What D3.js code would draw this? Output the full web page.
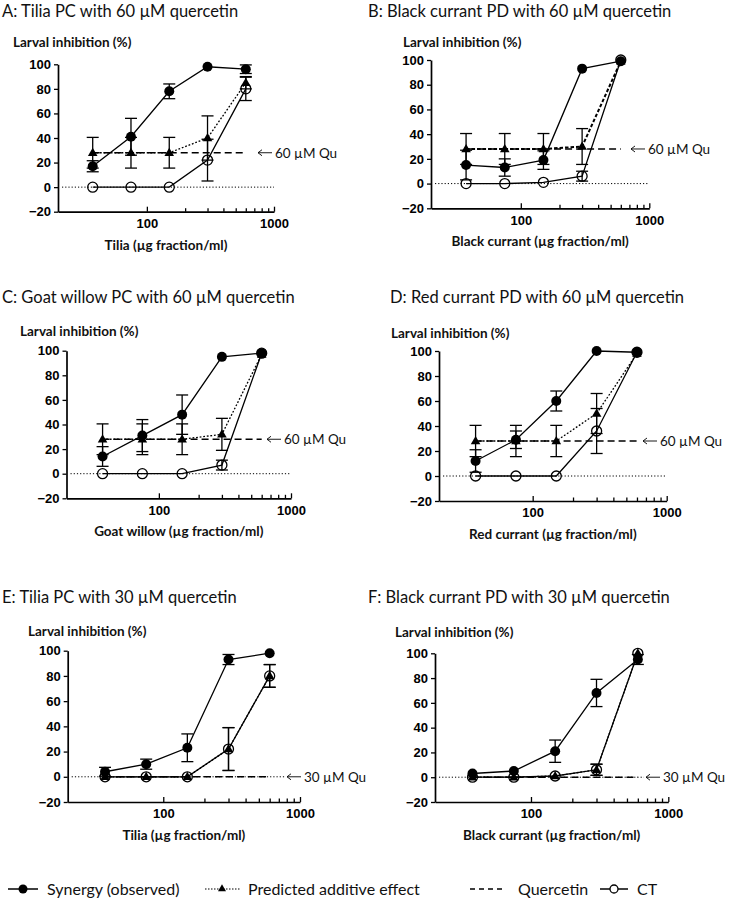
<!DOCTYPE html>
<html><head><meta charset="utf-8">
<script src="https://cdn.jsdelivr.net/npm/d3@7"></script>
<style>body{margin:0;background:#fff} svg{display:block}</style>
</head><body>
<svg id="c" width="731" height="904"></svg>
<script>
// ---------- data ----------
const concentrations = [37.5, 75, 150, 300, 600];
const yTickValues = [-20, 0, 20, 40, 60, 80, 100];
const xMajorTicks = [100, 1000];
const xMinorTicks = [200, 300, 400, 500, 600, 700, 800, 900];

const panelTitles = [
  "A: Tilia PC with 60 µM quercetin",
  "B: Black currant PD with 60 µM quercetin",
  "C: Goat willow PC with 60 µM quercetin",
  "D: Red currant PD with 60 µM quercetin",
  "E: Tilia PC with 30 µM quercetin",
  "F: Black currant PD with 30 µM quercetin"
];
const yAxisTitle = "Larval inhibition (%)";
const xAxisTitles = [
  "Tilia (µg fraction/ml)",
  "Black currant (µg fraction/ml)",
  "Goat willow (µg fraction/ml)",
  "Red currant (µg fraction/ml)",
  "Tilia (µg fraction/ml)",
  "Black currant (µg fraction/ml)"
];
const quercetinLabels = ["60 µM Qu", "60 µM Qu", "60 µM Qu", "60 µM Qu", "30 µM Qu", "30 µM Qu"];
const quercetinLevels = [28, 28, 28, 28, 0, 0];

const synergy = [
  [17, 41, 78, 98, 96],
  [15, 13, 19, 93, 99],
  [14, 31, 48, 95, 98],
  [12, 29, 60, 100, 99],
  [4, 10, 23, 93, 98],
  [3, 5, 21, 68, 95]
];
const synergyErr = [
  [4.5, 15, 6, 0, 3.5],
  [12, 7, 7.5, 0, 0],
  [8, 13, 16, 0, 0],
  [9, 7, 8, 0, 0],
  [3.5, 4, 11, 4, 0],
  [0, 0, 9, 11, 4]
];
const predicted = [
  [28, 28, 28, 40, 85],
  [28, 28, 28, 30, 99],
  [28, 28, 28, 32, 97],
  [28, 28, 28, 50, 98],
  [0, 0, 0, 22, 80],
  [0, 0, 1, 6, 100]
];
const predictedErr = [
  [12.5, 12.5, 12.5, 18, 5],
  [12.5, 12.5, 12.5, 14.5, 0],
  [12.5, 12.5, 12.5, 13, 0],
  [12.5, 12.5, 12.5, 16, 0],
  [0, 0, 0, 17, 9],
  [0, 0, 0, 4.5, 0]
];
const ctValues = [
  [0, 0, 0, 22, 80],
  [0, 0, 1, 6, 100],
  [0, 0, 0, 7, 98],
  [0, 0, 0, 36, 99],
  [0, 0, 0, 22, 80],
  [0, 0, 1, 6, 100]
];
const ctErr = [
  [0, 0, 0, 17, 9.5],
  [0, 0, 0, 4, 0],
  [0, 0, 0, 4, 0],
  [0, 0, 0, 18, 0],
  [0, 0, 0, 17, 9],
  [0, 0, 0, 4.5, 0]
];
const legendLabels = ["Synergy (observed)", "Predicted additive effect", "Quercetin", "CT"];

// ---------- layout ----------
const layout = [
  {left:58,   right:274,   top:64.3,  bottom:211.7, tx:2,   ty:16.5,  lx:13,  ly:46.5, arrowX:258, zeroEnd:null},
  {left:431,  right:649.3, top:60,    bottom:208.3, tx:368, ty:16.5,  lx:403, ly:46.5, arrowX:631, zeroEnd:null, heavyPred:true},
  {left:66.5, right:291,   top:350.7, bottom:498.3, tx:2,   ty:302.5, lx:20,  ly:336,  arrowX:267, zeroEnd:null},
  {left:439,  right:666.7, top:351,   bottom:501,   tx:390, ty:302.5, lx:391, ly:337.5, arrowX:643, zeroEnd:null},
  {left:67.7, right:300,   top:650.7, bottom:802,   tx:2,   ty:603,   lx:28,  ly:636,  arrowX:287, zeroEnd:285},
  {left:435,  right:668.3, top:653.3, bottom:802,   tx:368, ty:603,   lx:395, ly:636.5, arrowX:646, zeroEnd:644}
];

const svg = d3.select("#c");
const FONT = "Lato, 'Open Sans', sans-serif";
const AXFONT = "'Liberation Sans', Arial, sans-serif";
const LW = 1.3;

function errBars(g, x, y, vals, errs) {
  vals.forEach((v, i) => {
    const e = errs[i];
    if (!e) return;
    const cx = x(concentrations[i]);
    const y1 = y(v - e), y2 = y(v + e);
    g.append("line").attr("x1", cx).attr("x2", cx).attr("y1", y1).attr("y2", y2)
      .attr("stroke", "#000").attr("stroke-width", LW);
    [y1, y2].forEach(yy => g.append("line").attr("x1", cx - 6).attr("x2", cx + 6)
      .attr("y1", yy).attr("y2", yy).attr("stroke", "#000").attr("stroke-width", LW));
  });
}

panelTitles.forEach((title, p) => {
  const L = layout[p];
  const x = d3.scaleLog().domain([20, 1000]).range([L.left, L.right]);
  const y = d3.scaleLinear().domain([-20, 100]).range([L.bottom, L.top]);
  const g = svg.append("g");

  g.append("text").attr("x", L.tx).attr("y", L.ty).attr("font-family", FONT)
    .attr("font-size", 16.5).attr("fill", "#111").text(title);
  g.append("text").attr("x", L.lx).attr("y", L.ly).attr("font-family", FONT)
    .attr("font-weight", "bold").attr("font-size", 13.5).attr("fill", "#111").text(yAxisTitle);

  // zero reference (dotted)
  const zEnd = L.zeroEnd != null ? L.zeroEnd : L.right;
  g.append("line").attr("x1", L.left + 4).attr("x2", zEnd).attr("y1", y(0)).attr("y2", y(0))
    .attr("stroke", "#000").attr("stroke-width", 1).attr("stroke-dasharray", "1.2,2");

  // axes
  const yAxis = g.append("g").attr("transform", `translate(${L.left},0)`)
    .call(d3.axisLeft(y).tickValues(yTickValues).tickSizeInner(4).tickSizeOuter(0).tickPadding(3));
  const xAxis = g.append("g").attr("transform", `translate(0,${L.bottom})`)
    .call(d3.axisBottom(x).tickValues(xMajorTicks).tickFormat(d3.format("d"))
      .tickSizeInner(-5).tickSizeOuter(0).tickPadding(7));
  const xMinor = g.append("g").attr("transform", `translate(0,${L.bottom})`)
    .call(d3.axisBottom(x).tickValues(xMinorTicks).tickFormat("").tickSizeInner(-3.5).tickSizeOuter(0));
  xMinor.select(".domain").remove();
  [yAxis, xAxis, xMinor].forEach(a => {
    a.selectAll("path.domain").attr("stroke", "#000").attr("stroke-width", 1.7);
    a.selectAll(".tick line").attr("stroke", "#000").attr("stroke-width", 1.3);
    a.selectAll(".tick text").attr("font-family", AXFONT).attr("font-weight", "bold")
      .attr("font-size", 13).attr("fill", "#000");
  });

  g.append("text").attr("x", (L.left + L.right) / 2).attr("y", L.bottom + 38)
    .attr("text-anchor", "middle").attr("font-family", FONT).attr("font-weight", "bold")
    .attr("font-size", 13.5).attr("fill", "#111").text(xAxisTitles[p]);

  const line = d3.line().x((d, i) => x(concentrations[i])).y(d => y(d));

  // quercetin dashed
  const q = quercetinLevels[p];
  g.append("line").attr("x1", x(concentrations[0])).attr("x2", x(concentrations[4]))
    .attr("y1", y(q)).attr("y2", y(q)).attr("stroke", "#000").attr("stroke-width", 1.5)
    .attr("stroke-dasharray", "7,4");
  // label arrow
  const ay = y(q);
  g.append("path").attr("d", `M${L.arrowX + 14},${ay}L${L.arrowX},${ay}M${L.arrowX + 4},${ay - 3}L${L.arrowX},${ay}L${L.arrowX + 4},${ay + 3}`)
    .attr("stroke", "#000").attr("stroke-width", 0.9).attr("fill", "none");
  g.append("text").attr("x", L.arrowX + 17).attr("y", ay + 5).attr("font-family", FONT)
    .attr("font-size", 13.5).attr("fill", "#111").text(quercetinLabels[p]);

  // series lines
  g.append("path").attr("d", line(ctValues[p])).attr("fill", "none").attr("stroke", "#000").attr("stroke-width", LW);
  g.append("path").attr("d", line(predicted[p])).attr("fill", "none").attr("stroke", "#000")
    .attr("stroke-width", L.heavyPred ? 2 : LW).attr("stroke-dasharray", L.heavyPred ? "3.5,2" : "1.8,1.8");
  g.append("path").attr("d", line(synergy[p])).attr("fill", "none").attr("stroke", "#000").attr("stroke-width", LW);

  errBars(g, x, y, ctValues[p], ctErr[p]);
  errBars(g, x, y, predicted[p], predictedErr[p]);
  errBars(g, x, y, synergy[p], synergyErr[p]);

  // markers
  g.selectAll(null).data(synergy[p]).enter().append("circle")
    .attr("cx", (d, i) => x(concentrations[i])).attr("cy", d => y(d)).attr("r", 5).attr("fill", "#000");
  g.selectAll(null).data(ctValues[p]).enter().append("circle")
    .attr("cx", (d, i) => x(concentrations[i])).attr("cy", d => y(d)).attr("r", 5)
    .attr("fill", "none").attr("stroke", "#000").attr("stroke-width", LW);
  g.selectAll(null).data(predicted[p]).enter().append("path")
    .attr("d", d3.symbol().type(d3.symbolTriangle).size(40))
    .attr("transform", (d, i) => `translate(${x(concentrations[i])},${y(d) + 0.5})`).attr("fill", "#000");
});

// ---------- legend ----------
const legY = 889;
const lg = svg.append("g");
const lt = (xx, t) => lg.append("text").attr("x", xx).attr("y", legY + 5.5).attr("font-family", FONT)
  .attr("font-size", 16).attr("fill", "#111").text(t);
lg.append("line").attr("x1", 8).attr("x2", 38).attr("y1", legY).attr("y2", legY).attr("stroke", "#000").attr("stroke-width", 1.5);
lg.append("circle").attr("cx", 23).attr("cy", legY).attr("r", 4.5).attr("fill", "#000");
lt(47, legendLabels[0]);
lg.append("line").attr("x1", 205).attr("x2", 240).attr("y1", legY).attr("y2", legY).attr("stroke", "#000")
  .attr("stroke-width", 1.2).attr("stroke-dasharray", "1.5,1.5");
lg.append("path").attr("d", d3.symbol().type(d3.symbolTriangle).size(28)).attr("transform", `translate(222,${legY})`).attr("fill", "#000");
lt(248, legendLabels[1]);
lg.append("line").attr("x1", 470).attr("x2", 502).attr("y1", legY).attr("y2", legY).attr("stroke", "#000")
  .attr("stroke-width", 1.5).attr("stroke-dasharray", "5,4");
lt(518, legendLabels[2]);
lg.append("line").attr("x1", 600).attr("x2", 628).attr("y1", legY).attr("y2", legY).attr("stroke", "#000").attr("stroke-width", 1.5);
lg.append("circle").attr("cx", 614).attr("cy", legY).attr("r", 4).attr("fill", "#fff").attr("stroke", "#000").attr("stroke-width", 1.3);
lt(637, legendLabels[3]);
</script>
</body></html>
